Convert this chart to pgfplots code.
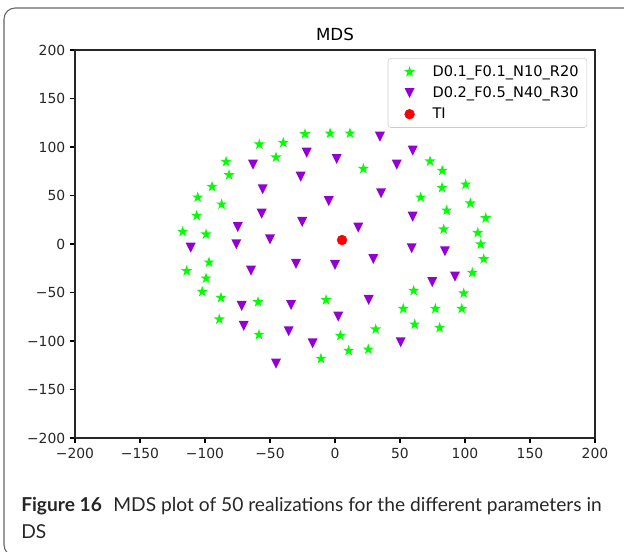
\documentclass[border=0pt]{standalone}
\usepackage{pgfplots}
\pgfplotsset{compat=1.18}
\usepackage{fontspec}
\setmainfont{DejaVu Sans}
\newfontfamily\capfont{Lato}

\definecolor{mplgreen}{RGB}{0,255,0}
\definecolor{mplviolet}{RGB}{148,0,211}
\definecolor{mplred}{RGB}{255,0,0}

% filled five-point star, like matplotlib's '*'
\pgfdeclareplotmark{fstar}{%
  \pgfpathmoveto{\pgfpointpolar{90}{\pgfplotmarksize}}%
  \pgfpathlineto{\pgfpointpolar{126}{0.382\pgfplotmarksize}}%
  \pgfpathlineto{\pgfpointpolar{162}{\pgfplotmarksize}}%
  \pgfpathlineto{\pgfpointpolar{198}{0.382\pgfplotmarksize}}%
  \pgfpathlineto{\pgfpointpolar{234}{\pgfplotmarksize}}%
  \pgfpathlineto{\pgfpointpolar{270}{0.382\pgfplotmarksize}}%
  \pgfpathlineto{\pgfpointpolar{306}{\pgfplotmarksize}}%
  \pgfpathlineto{\pgfpointpolar{342}{0.382\pgfplotmarksize}}%
  \pgfpathlineto{\pgfpointpolar{18}{\pgfplotmarksize}}%
  \pgfpathlineto{\pgfpointpolar{54}{0.382\pgfplotmarksize}}%
  \pgfpathclose
  \pgfusepathqfill}
% downward triangle, like matplotlib's 'v'
\pgfdeclareplotmark{vtri}{%
  \pgfpathmoveto{\pgfpoint{0pt}{-\pgfplotmarksize}}%
  \pgfpathlineto{\pgfpoint{-\pgfplotmarksize}{\pgfplotmarksize}}%
  \pgfpathlineto{\pgfpoint{\pgfplotmarksize}{\pgfplotmarksize}}%
  \pgfpathclose
  \pgfusepathqfill}

\begin{document}
\begin{tikzpicture}[x=0.72pt,y=0.72pt]
\useasboundingbox (0,0) rectangle (624,551);
\begin{scope}
\clip (0,0) rectangle (624,551);
\draw[black!60, line width=0.8pt, rounded corners=8pt]
  (640,380) -- (640,543) -- (4,543) -- (4,-5) -- (600,-5);
\end{scope}

\begin{axis}[
  at={(54pt,81.36pt)}, anchor=south west,
  scale only axis, width=374.4pt, height=279.36pt,
  xmin=-200, xmax=200, ymin=-200, ymax=200,
  xtick={-200,-150,-100,-50,0,50,100,150,200},
  xticklabels={−200,−150,−100,−50,0,50,100,150,200},
  ytick={-200,-150,-100,-50,0,50,100,150,200},
  yticklabels={−200,−150,−100,−50,0,50,100,150,200},
  tick pos=left, tick align=outside, major tick length=3.5pt,
  tick style={black, line width=0.8pt},
  axis line style={black!85, line width=0.8pt},
  tick label style={font=\fontsize{10}{12}\selectfont, text=black!85},
  title={MDS},
  title style={font=\fontsize{12}{14}\selectfont, at={(0.5,1)}, anchor=base, yshift=0.5pt},
  legend style={at={(0.985,0.979)}, anchor=north east,
    draw=black!20, rounded corners=2pt,
    font=\fontsize{10.5}{12}\selectfont, row sep=2pt,
    inner xsep=4pt, inner ysep=3pt,
    /tikz/every odd column/.append style={column sep=6pt}},
  legend image code/.code={%
    \path[draw=none, fill=none] (-3pt,0pt) -- (0.6cm,0pt);
    \draw[#1, only marks] plot coordinates {(0.3cm,0cm)};},
  legend cell align=left,
]
\addplot[only marks, mark=fstar, mark size=4.2pt, color=mplgreen] coordinates {
(-23.1,113.4) (-3.8,114.1) (-58.2,102.8) (-39.8,104.4) (-45.4,89.4)
(-83.8,84.8) (-81.5,71.1) (-94.6,59.1) (-87.2,40.9) (-105.6,48.1)
(-106.4,29.2) (-117.2,12.7) (-99.2,10.0) (11.5,114.1) (21.8,77.6)
(73.1,85.3) (82.5,75.6) (100.5,61.5) (82.3,58.0) (65.9,48.1)
(104.1,42.0) (85.9,34.7) (115.9,26.8) (83.6,15.2) (109.8,11.6)
(112.1,-0.3) (-96.9,-18.9) (-114.1,-27.8) (-99.2,-35.4) (-102.1,-49.2)
(-87.7,-55.4) (-59.2,-59.8) (-89.0,-77.6) (-58.5,-93.5) (-6.9,-57.7)
(-10.8,-118.2) (114.4,-15.5) (105.6,-29.6) (99.0,-50.8) (60.5,-48.1)
(52.5,-66.7) (77.2,-66.7) (97.5,-66.7) (61.3,-82.8) (80.5,-86.3)
(31.3,-87.9) (4.1,-94.5) (10.5,-110.0) (25.6,-108.6)
};
\addlegendentry{D0.1\_F0.1\_N10\_R20}
\addplot[only marks, mark=vtri, mark size=3.6pt, color=mplviolet] coordinates {
(-21.8,94.1) (1.3,87.6) (-63.1,81.8) (-26.4,69.4) (-55.6,56.4)
(-4.8,44.3) (-56.4,31.2) (-25.2,22.7) (-74.8,17.5) (-50.0,4.8)
(-75.9,-0.3) (-111.0,-3.8) (34.6,110.6) (59.8,96.2) (47.5,81.8)
(35.4,52.3) (59.8,28.1) (17.9,16.8) (59.0,-4.4) (84.6,-7.5)
(-64.6,-27.5) (-30.0,-20.6) (0.0,-21.6) (-71.8,-63.9) (-33.8,-62.9)
(-70.2,-84.5) (-35.6,-90.0) (-17.2,-102.4) (-45.4,-123.4) (2.5,-74.9)
(29.5,-15.5) (92.3,-33.7) (74.8,-39.2) (25.9,-57.7) (50.5,-101.3)
};
\addlegendentry{D0.2\_F0.5\_N40\_R30}
\addplot[only marks, mark=*, mark size=3.5pt, color=mplred] coordinates {
(5.4,4.1)
};
\addlegendentry{TI}
\end{axis}

\node[anchor=base west, inner sep=0pt, text=black!85,
  font=\capfont\fontsize{13.8}{16}\selectfont] at (21,40)
  {\textbf{Figure 16}\hspace{0.6em}MDS plot of 50 realizations for the different parameters in};
\node[anchor=base west, inner sep=0pt, text=black!85,
  font=\capfont\fontsize{13.8}{16}\selectfont] at (21,13) {DS};
\end{tikzpicture}
\end{document}
